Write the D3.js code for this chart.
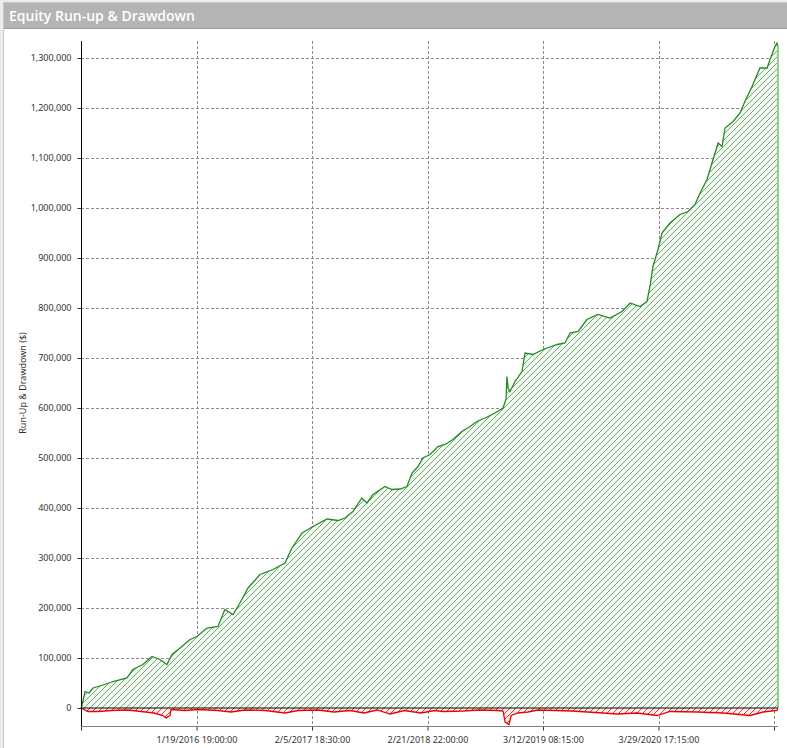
<!DOCTYPE html>
<html lang="en">
	<head>
		<meta charset="utf-8">
		<title>Equity Run-up & Drawdown</title>
		<script type="text/javascript" src="https://cdn.jsdelivr.net/npm/d3@7"></script>
		<style type="text/css">
			body { margin: 0; background: #ffffff; }
			svg { display: block; }
		</style>
	</head>
	<body>
		<script type="text/javascript">

			//Width and height
			var w = 787;
			var h = 748;

			//Trade number of each equity reading
			var equityTrades = [0, 4, 13, 17, 35, 52, 95, 139, 199, 225, 268, 307, 342, 372, 394, 429, 472, 502, 545, 593,
				623, 658, 688, 723, 775, 831, 883, 913, 957, 1004, 1065, 1113, 1143, 1177, 1216, 1238, 1264, 1316, 1346, 1381,
				1411, 1433, 1459, 1480, 1511, 1545, 1576, 1610, 1649, 1684, 1714, 1758, 1792, 1827, 1840, 1844, 1849, 1857, 1879, 1909,
				1922, 1957, 2000, 2061, 2095, 2117, 2152, 2190, 2238, 2290, 2342, 2377, 2420, 2450, 2463, 2476, 2498, 2515, 2550, 2593,
				2628, 2658, 2680, 2710, 2736, 2758, 2775, 2788, 2823, 2853, 2874, 2905, 2939, 2970, 2983, 3004, 3013, 3017];

			//Run-up equity in $
			var equityValues = [0, 5000, 23000, 33000, 30000, 40000, 46000, 53000, 60000, 77000, 87000, 103000, 97000, 87000, 107000, 120000, 137000, 143000, 160000, 163000,
				197000, 187000, 210000, 240000, 267000, 277000, 290000, 320000, 350000, 363000, 378000, 375000, 380000, 393000, 420000, 410000, 427000, 443000, 437000, 438000,
				443000, 470000, 483000, 500000, 507000, 523000, 527000, 537000, 553000, 563000, 573000, 582000, 590000, 600000, 618000, 663000, 640000, 633000, 653000, 673000,
				710000, 707000, 717000, 727000, 730000, 750000, 753000, 777000, 787000, 780000, 793000, 810000, 803000, 813000, 843000, 883000, 917000, 950000, 970000, 987000,
				993000, 1007000, 1030000, 1057000, 1097000, 1130000, 1123000, 1160000, 1173000, 1190000, 1213000, 1243000, 1280000, 1280000, 1297000, 1323000, 1330000, 1325000];

			//Trade number of each drawdown reading
			var drawdownTrades = [0, 30, 74, 130, 203, 260, 316, 355, 368, 385, 390, 450, 506, 593, 649, 710, 797, 883, 940, 1026,
				1095, 1164, 1225, 1282, 1338, 1400, 1472, 1532, 1567, 1654, 1727, 1801, 1827, 1836, 1853, 1862, 1892, 1935, 1978, 2126,
				2260, 2320, 2407, 2494, 2550, 2667, 2780, 2897, 2953, 3013, 3017];

			//Drawdown in $
			var drawdownValues = [0, -7000, -7000, -5000, -4000, -7000, -10000, -15000, -20000, -15000, -3000, -5000, -3000, -5000, -8000, -4000, -5000, -10000, -5000, -4000,
				-8000, -5000, -10000, -4000, -12000, -5000, -10000, -5000, -7000, -6000, -4000, -5000, -6000, -28000, -33000, -15000, -10000, -8000, -4000, -6000,
				-10000, -12000, -10000, -15000, -7000, -8000, -10000, -15000, -8000, -5000, 0];

			//Axis ticks
			var xTickTrades = [0, 500, 1000, 1500, 2000, 2500, 3000];
			var xTickLabels = ["", "1/19/2016 19:00:00", "2/5/2017 18:30:00", "2/21/2018 22:00:00", "3/12/2019 08:15:00", "3/29/2020 17:15:00", ""];
			var yTicks = [0, 100000, 200000, 300000, 400000, 500000, 600000, 700000, 800000, 900000, 1000000, 1100000, 1200000, 1300000];

			var equity = equityTrades.map(function(t, i) { return { trade: t, value: equityValues[i] }; });
			var drawdown = drawdownTrades.map(function(t, i) { return { trade: t, value: drawdownValues[i] }; });

			var plotLeft = 81, plotRight = 778, plotTop = 41, plotBottom = 726;

			//Scales
			var xScale = d3.scaleLinear()
						.domain([0, 3000])
						.range([plotLeft, 774]);

			var yScale = d3.scaleLinear()
						.domain([0, 1300000])
						.range([708, 58]);

			var svg = d3.select("body")
						.append("svg")
						.attr("width", w)
						.attr("height", h);

			//Frame and title bar
			svg.append("rect").attr("x", 0).attr("y", 0).attr("width", w).attr("height", h).attr("fill", "#ececec");
			svg.append("rect").attr("x", 3.5).attr("y", 2.5).attr("width", w).attr("height", h).attr("fill", "#ffffff").attr("stroke", "#c9c9c9");
			svg.append("rect").attr("x", 4).attr("y", 3).attr("width", w - 4).attr("height", 25).attr("fill", "#b4b4b4");
			svg.append("line").attr("x1", 4).attr("x2", w).attr("y1", 28.5).attr("y2", 28.5).attr("stroke", "#9c9c9c");
			svg.append("text")
				.text("Equity Run-up & Drawdown")
				.attr("x", 9)
				.attr("y", 21)
				.attr("font-family", "'Open Sans', sans-serif")
				.attr("font-weight", "600")
				.attr("font-size", "14px")
				.attr("fill", "#ffffff");

			//Hatch patterns, one pixel per row on the diagonal
			var defs = svg.append("defs");
			var hatch = [["hatchGreen", "#72a872", "#f3f8f3"], ["hatchRed", "#ee3030", "#fff4f4"]];
			hatch.forEach(function(p) {
				var pat = defs.append("pattern")
					.attr("id", p[0])
					.attr("patternUnits", "userSpaceOnUse")
					.attr("width", 6)
					.attr("height", 6);
				pat.append("rect").attr("width", 6).attr("height", 6).attr("fill", p[2]);
				pat.selectAll("rect.px")
					.data(d3.range(6))
					.enter()
					.append("rect")
					.attr("class", "px")
					.attr("x", function(d) { return 5 - d; })
					.attr("y", function(d) { return d; })
					.attr("width", 1)
					.attr("height", 1)
					.attr("fill", p[1])
					.attr("shape-rendering", "crispEdges");
			});

			//Gridlines
			svg.selectAll("line.hgrid")
				.data(yTicks.slice(1))
				.enter()
				.append("line")
				.attr("class", "hgrid")
				.attr("x1", plotLeft)
				.attr("x2", plotRight)
				.attr("y1", function(d) { return Math.round(yScale(d)) + 0.5; })
				.attr("y2", function(d) { return Math.round(yScale(d)) + 0.5; })
				.attr("stroke", "#8a8a8a")
				.attr("stroke-dasharray", "3,2");

			svg.selectAll("line.vgrid")
				.data(xTickTrades.slice(1))
				.enter()
				.append("line")
				.attr("class", "vgrid")
				.attr("x1", function(d) { return Math.round(xScale(d)) + 0.5; })
				.attr("x2", function(d) { return Math.round(xScale(d)) + 0.5; })
				.attr("y1", plotTop)
				.attr("y2", plotBottom)
				.attr("stroke", "#8a8a8a")
				.attr("stroke-dasharray", "3,2");

			//Run-up area
			var area = d3.area()
						.x(function(d) { return xScale(d.trade); })
						.y0(yScale(0))
						.y1(function(d) { return yScale(d.value); });

			var line = d3.line()
						.x(function(d) { return xScale(d.trade); })
						.y(function(d) { return yScale(d.value); });

			svg.append("path")
				.datum(equity)
				.attr("d", area)
				.attr("fill", "url(#hatchGreen)");

			svg.append("path")
				.datum(drawdown)
				.attr("d", area)
				.attr("fill", "url(#hatchRed)");

			//Right edge of the run-up area
			var last = equity[equity.length - 1];
			svg.append("line")
				.attr("x1", xScale(last.trade))
				.attr("x2", xScale(last.trade))
				.attr("y1", yScale(0))
				.attr("y2", yScale(last.value))
				.attr("stroke", "#8fd08f")
				.attr("stroke-width", 2);

			//Zero line
			svg.append("line")
				.attr("x1", plotLeft)
				.attr("x2", plotRight)
				.attr("y1", yScale(0))
				.attr("y2", yScale(0))
				.attr("stroke", "#000000")
				.attr("stroke-width", 1);

			svg.append("path")
				.datum(drawdown)
				.attr("d", line)
				.attr("fill", "none")
				.attr("stroke", "#ee0000")
				.attr("stroke-width", 1.3);

			svg.append("path")
				.datum(equity)
				.attr("d", line)
				.attr("fill", "none")
				.attr("stroke", "#228b22")
				.attr("stroke-width", 1.3);

			//Define Y axis
			var yAxis = d3.axisLeft()
						.scale(yScale)
						.tickValues(yTicks)
						.tickSize(4)
						.tickPadding(6)
						.tickFormat(d3.format(","));

			var xAxis = d3.axisBottom()
						.scale(xScale)
						.tickValues(xTickTrades)
						.tickSize(4)
						.tickPadding(6)
						.tickFormat(function(d, i) { return xTickLabels[i]; });

			var gy = svg.append("g")
				.attr("class", "axis")
				.attr("transform", "translate(" + (plotLeft + 0.5) + ",0)")
				.call(yAxis);
			gy.select(".domain").remove();
			gy.append("line")
				.attr("x1", 0).attr("x2", 0)
				.attr("y1", plotTop).attr("y2", plotBottom)
				.attr("stroke", "#000000");

			var gx = svg.append("g")
				.attr("class", "axis")
				.attr("transform", "translate(0," + (plotBottom + 0.5) + ")")
				.call(xAxis);
			gx.select(".domain").remove();
			gx.append("line")
				.attr("x1", plotLeft).attr("x2", plotRight)
				.attr("y1", 0).attr("y2", 0)
				.attr("stroke", "#808080");

			svg.selectAll(".axis text")
				.attr("font-family", "'Noto Sans', sans-serif")
				.attr("font-size", "9px")
				.attr("fill", "#333333");
			svg.selectAll(".axis .tick line").attr("stroke", "#333333");

			//Y axis title
			svg.append("text")
				.text("Run-Up & Drawdown ($)")
				.attr("transform", "translate(26,383) rotate(-90)")
				.attr("text-anchor", "middle")
				.attr("font-family", "'Noto Sans', sans-serif")
				.attr("font-size", "9px")
				.attr("fill", "#333333");

		</script>
	</body>
</html>
